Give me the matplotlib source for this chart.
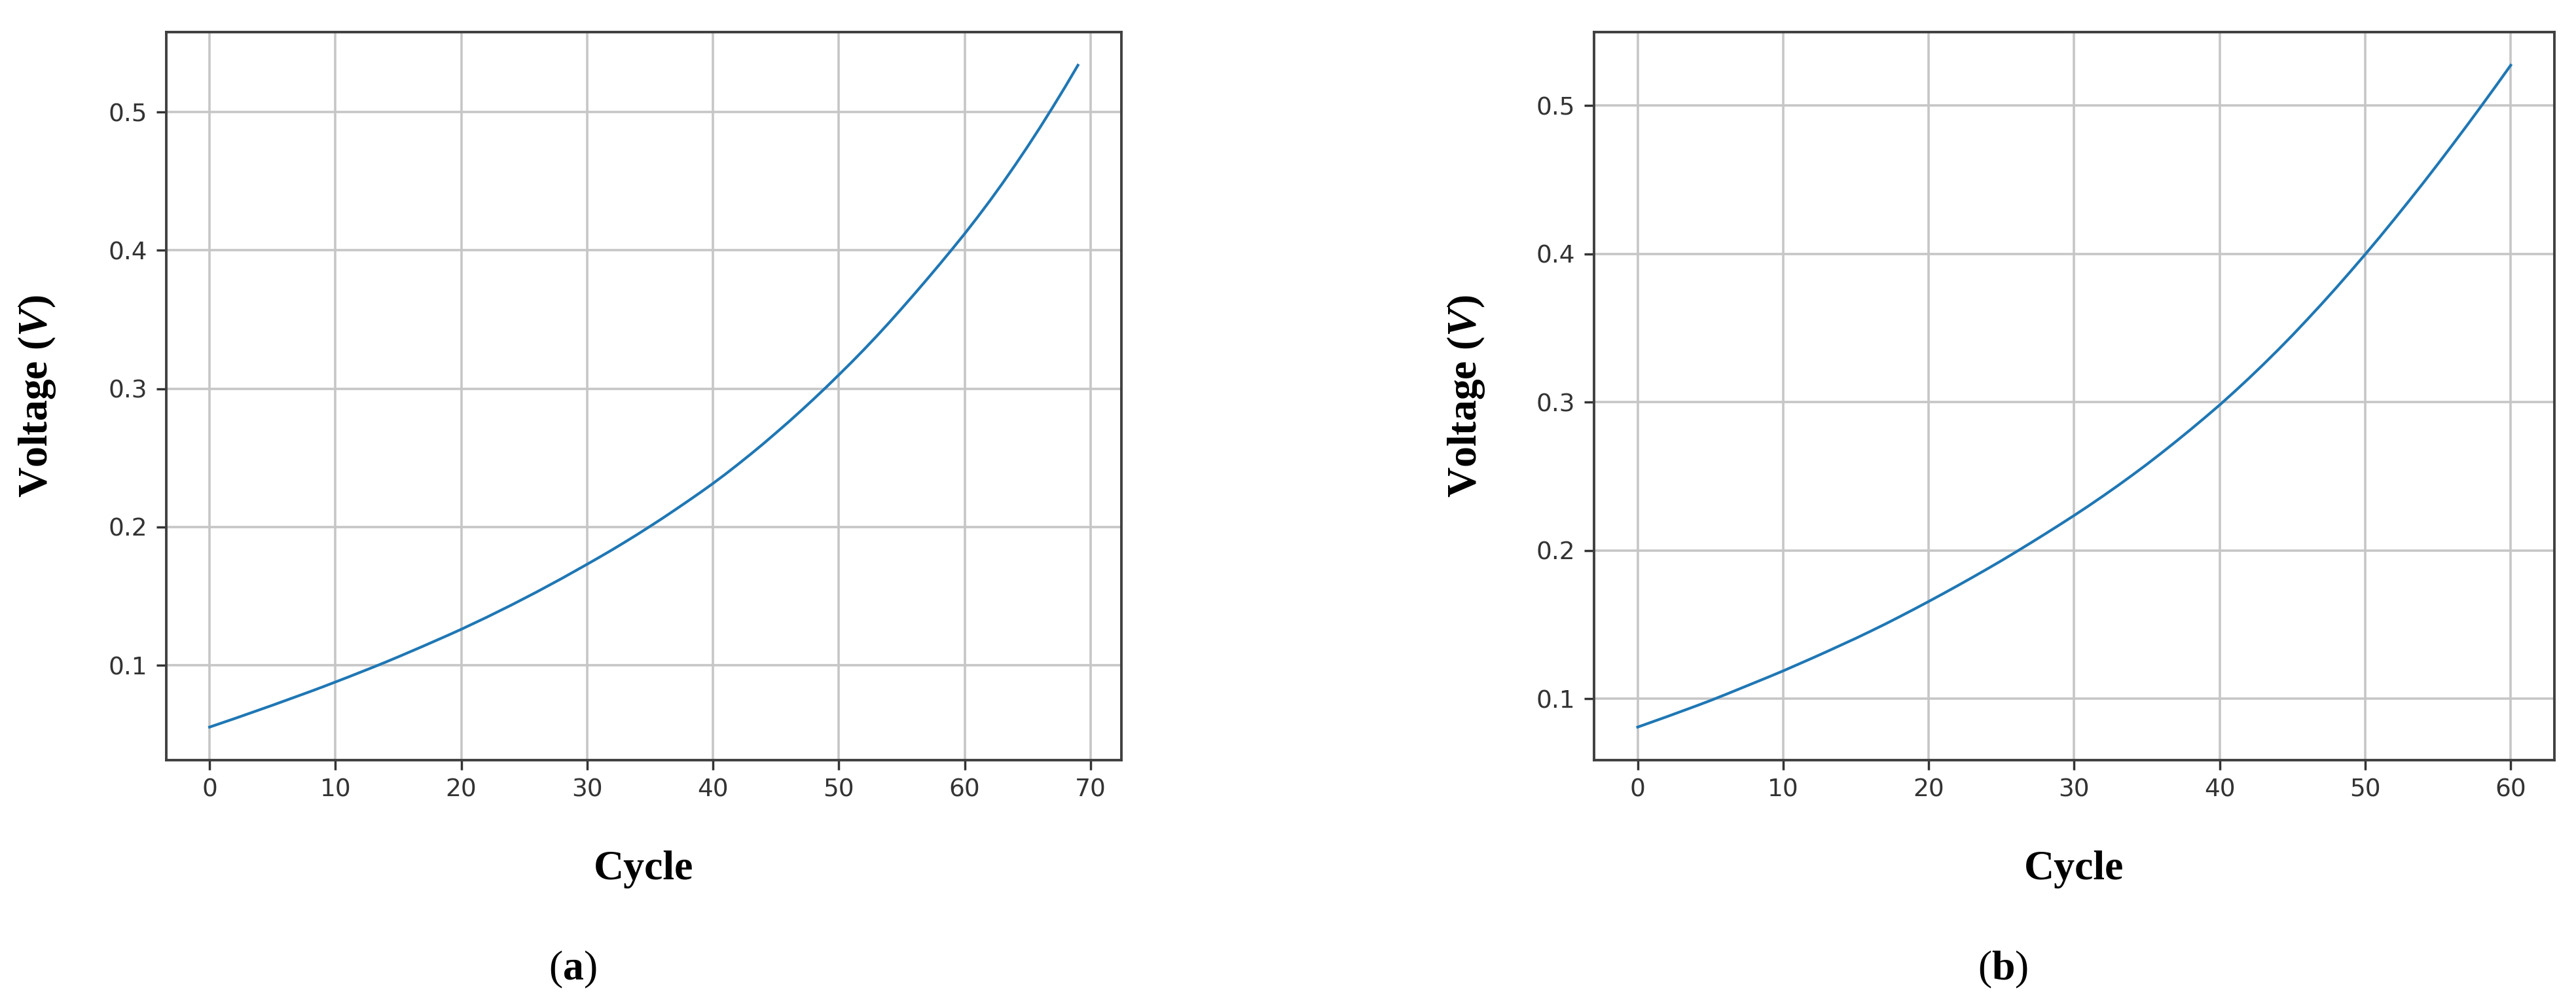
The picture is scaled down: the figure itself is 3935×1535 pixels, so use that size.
import numpy as np
import matplotlib
matplotlib.use("Agg")
import matplotlib.pyplot as plt


# Voltage, one value per cycle (0..69)
voltage_a = [
    0.0554, 0.0585, 0.0616, 0.0648, 0.0680, 0.0712, 0.0745, 0.0778, 0.0811, 0.0845,
    0.0880, 0.0915, 0.0951, 0.0987, 0.1024, 0.1062, 0.1101, 0.1140, 0.1180, 0.1220,
    0.1261, 0.1304, 0.1347, 0.1392, 0.1437, 0.1484, 0.1531, 0.1580, 0.1629, 0.1680,
    0.1731, 0.1783, 0.1836, 0.1891, 0.1947, 0.2005, 0.2064, 0.2125, 0.2187, 0.2250,
    0.2315, 0.2383, 0.2454, 0.2527, 0.2602, 0.2680, 0.2759, 0.2841, 0.2925, 0.3011,
    0.3100, 0.3190, 0.3283, 0.3379, 0.3478, 0.3580, 0.3684, 0.3790, 0.3898, 0.4008,
    0.4120, 0.4237, 0.4358, 0.4484, 0.4615, 0.4750, 0.4890, 0.5035, 0.5184, 0.5338,
]

# Voltage, one value per cycle (0..60)
voltage_b = [
    0.0809, 0.0844, 0.0879, 0.0915, 0.0951, 0.0988, 0.1027, 0.1067, 0.1107, 0.1147,
    0.1188, 0.1231, 0.1274, 0.1318, 0.1363, 0.1408, 0.1455, 0.1503, 0.1553, 0.1604,
    0.1656, 0.1709, 0.1763, 0.1818, 0.1874, 0.1931, 0.1990, 0.2050, 0.2111, 0.2173,
    0.2236, 0.2301, 0.2368, 0.2437, 0.2508, 0.2581, 0.2657, 0.2735, 0.2815, 0.2897,
    0.2981, 0.3069, 0.3160, 0.3254, 0.3351, 0.3451, 0.3555, 0.3661, 0.3770, 0.3882,
    0.3996, 0.4113, 0.4233, 0.4355, 0.4479, 0.4606, 0.4735, 0.4866, 0.4999, 0.5134,
    0.5271,
]

cycles_a = np.arange(len(voltage_a))
cycles_b = np.arange(len(voltage_b))

panel_tags = ["a", "b"]
x_label = "Cycle"
y_label = "Voltage ($V$)"

# fonts for the serif labels (bold, italic V)
plt.rcParams["mathtext.fontset"] = "custom"
plt.rcParams["mathtext.rm"] = "Liberation Serif"
plt.rcParams["mathtext.it"] = "Liberation Serif:italic:bold"
plt.rcParams["mathtext.bf"] = "Liberation Serif:bold"


def style_axis(ax, x, y, ylabel_x):
    """Draw one panel with the matplotlib-like look of the reference"""

    ax.plot(x, y, color="#1f77b4", linewidth=3.0)

    ax.grid(True, color="#c6c6c6", linewidth=2.6)
    ax.set_axisbelow(True)

    for spine in ax.spines.values():
        spine.set_color("#404040")
        spine.set_linewidth(2.8)

    ax.tick_params(axis="both", labelsize=27, colors="#333333",
                   length=11, width=2.5)
    ax.tick_params(axis="x", pad=9)
    ax.tick_params(axis="y", pad=10)
    ax.set_yticks([0.1, 0.2, 0.3, 0.4, 0.5])

    # axis labels in bold serif
    ax.set_xlabel(x_label, family="Liberation Serif", fontweight="bold",
                  fontsize=46)
    ax.set_ylabel(y_label, family="Liberation Serif", fontweight="bold",
                  fontsize=46)
    ax.xaxis.label.set_va("center")
    ax.yaxis.label.set_va("center")
    ax.xaxis.set_label_coords(0.5, -0.150)
    ax.yaxis.set_label_coords(ylabel_x, 0.5)


fig = plt.figure(figsize=(39.35, 15.35), dpi=100)

ax_a = fig.add_axes([0.0645, 0.2436, 0.3708, 0.7244])
ax_b = fig.add_axes([0.6188, 0.2436, 0.3728, 0.7244])

style_axis(ax_a, cycles_a, voltage_a, -0.135)
style_axis(ax_b, cycles_b, voltage_b, -0.133)

ax_a.set_xticks([0, 10, 20, 30, 40, 50, 60, 70])
ax_b.set_xticks([0, 10, 20, 30, 40, 50, 60])

# sub-figure captions
for xpos, tag in zip([0.2224, 0.7776], panel_tags):
    fig.text(xpos, 0.035, "($\\mathbf{%s}$)" % tag, family="Liberation Serif",
             fontsize=46, ha="center", va="center")

fig.savefig("out.png", dpi=100)
